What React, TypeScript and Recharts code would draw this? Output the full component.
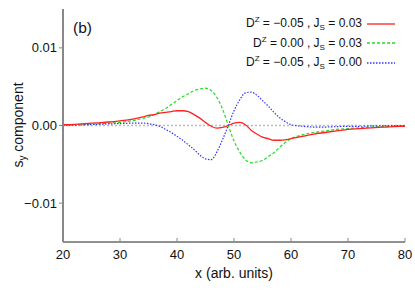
import { CartesianGrid, Line, LineChart, ReferenceLine, XAxis, YAxis } from 'recharts';

const xs = [
	20, 22, 24, 26, 28, 30, 32, 34, 35, 36, 37, 38, 39, 40, 41, 42, 43, 44, 45, 46, 47, 48, 49, 50,
	51, 52, 53, 54, 55, 56, 57, 58, 59, 60, 62, 64, 66, 68, 70, 72, 74, 76, 78, 80,
];

// Dz = -0.05, Js = 0.03
const redSeries = [
	0.0001, 0.00015, 0.00025, 0.00035, 0.00045, 0.0006, 0.0008, 0.0011, 0.0013, 0.0014, 0.0016,
	0.0017, 0.0018, 0.0019, 0.0019, 0.0018, 0.0014, 0.00095, 0.0004, -0.0001, -0.00035, -0.00025,
	0.0, 0.0003, 0.0004, 0.0001, -0.0006, -0.0011, -0.0015, -0.0017, -0.0019, -0.0019, -0.00185,
	-0.0017, -0.0014, -0.0011, -0.0009, -0.0007, -0.0005, -0.0004, -0.0003, -0.0002, -0.00015,
	-0.0001,
];

// Dz = 0.00, Js = 0.03
const greenSeries = [
	0.00005, 0.0001, 0.00015, 0.0002, 0.0003, 0.0004, 0.0006, 0.0009, 0.0011, 0.0014, 0.0018,
	0.0022, 0.0027, 0.0032, 0.0037, 0.0041, 0.0045, 0.0047, 0.0048, 0.0045, 0.0036, 0.0021, 0.0,
	-0.002, -0.0034, -0.0044, -0.0048, -0.0047, -0.0045, -0.004, -0.0035, -0.0028, -0.0022,
	-0.0017, -0.0012, -0.0009, -0.0007, -0.0005, -0.0004, -0.0003, -0.0002, -0.00015, -0.0001,
	-0.00005,
];

// Dz = -0.05, Js = 0.00
const blueSeries = [
	0.00002, 0.00005, 0.0001, 0.00015, 0.0002, 0.00025, 0.0003, 0.0003, 0.00025, 0.0001, -0.0001,
	-0.0005, -0.0009, -0.0014, -0.0019, -0.0025, -0.0031, -0.0038, -0.0043, -0.0044, -0.0034,
	-0.0018, 0.0, 0.0019, 0.0033, 0.0042, 0.0043, 0.0039, 0.0032, 0.0025, 0.0017, 0.001, 0.0005,
	0.0001, -0.0001, -0.0002, -0.0002, -0.00015, -0.0001, -0.0001, -0.00005, -0.00003, 0, 0,
];

const xTicks = [20, 30, 40, 50, 60, 70, 80];
const yTicks = [-0.01, 0, 0.01];

const data = xs.map((x, i) => ({
	x,
	red: redSeries[i],
	green: greenSeries[i],
	blue: blueSeries[i],
}));

const font = '"Liberation Sans", Arial, sans-serif';

const fmtY = (v: number) => (v < 0 ? '\u2212' : '') + Math.abs(v).toFixed(2);

const legendRows = [
	{ dz: '\u22120.05', js: '0.03', color: '#ff2020', dash: undefined },
	{ dz: '0.00', js: '0.03', color: '#22dd22', dash: '3 2' },
	{ dz: '\u22120.05', js: '0.00', color: '#3333ff', dash: '1.5 1.5' },
];

export default function App() {
	return (
		<div style={{ position: 'absolute', left: 0, top: 0, width: 415, height: 291, fontFamily: font }}>
			<LineChart
				width={415}
				height={291}
				data={data}
				margin={{ top: 9, right: 10, left: 0, bottom: 0 }}
			>
				<CartesianGrid stroke='none' />
				<XAxis
					xAxisId='top'
					orientation='top'
					dataKey='x'
					type='number'
					domain={[20, 80]}
					height={0}
					tick={false}
					tickLine={false}
					axisLine={{ stroke: '#222', strokeWidth: 1 }}
				/>
				<YAxis
					yAxisId='right'
					orientation='right'
					domain={[-0.015, 0.015]}
					width={0}
					tick={false}
					tickLine={false}
					axisLine={{ stroke: '#222', strokeWidth: 1 }}
				/>
				<XAxis
					dataKey='x'
					type='number'
					domain={[20, 80]}
					ticks={xTicks}
					height={49}
					tickSize={-4}
					tickLine={{ stroke: '#888' }}
					axisLine={{ stroke: '#222', strokeWidth: 1 }}
					tick={{ fill: '#111', fontSize: 13, fontFamily: font, dy: 10 }}
					label={{
						value: 'x (arb. units)',
						position: 'insideBottom',
						offset: 13,
						fill: '#111',
						fontSize: 14,
						fontFamily: font,
					}}
				/>
				<YAxis
					domain={[-0.015, 0.015]}
					ticks={yTicks}
					width={63}
					tickSize={4}
					tickFormatter={fmtY}
					tickLine={{ stroke: '#888' }}
					axisLine={{ stroke: '#888', strokeWidth: 2 }}
					tick={{ fill: '#111', fontSize: 13, fontFamily: font }}
				/>
				<ReferenceLine y={0} stroke='#bbbbbb' strokeWidth={1.5} strokeDasharray='2 2' />
				<Line
					dataKey='green'
					type='monotone'
					stroke='#22dd22'
					strokeWidth={1.2}
					strokeDasharray='3 2'
					dot={false}
					isAnimationActive={false}
				/>
				<Line
					dataKey='blue'
					type='monotone'
					stroke='#3333ff'
					strokeWidth={1.2}
					strokeDasharray='1.5 1.5'
					dot={false}
					isAnimationActive={false}
				/>
				<Line
					dataKey='red'
					type='monotone'
					stroke='#ff2020'
					strokeWidth={1.3}
					dot={false}
					isAnimationActive={false}
				/>
			</LineChart>
			<div
				style={{
					position: 'absolute',
					left: 2,
					top: 125,
					transform: 'translate(0, -50%) rotate(-90deg)',
					transformOrigin: 'center',
					fontSize: 14,
					color: '#111',
					whiteSpace: 'nowrap',
					width: 34,
					display: 'flex',
					justifyContent: 'center',
				}}
			>
				<span>
					s<sub style={{ fontSize: 10 }}>y</sub> component
				</span>
			</div>
			<div style={{ position: 'absolute', left: 73, top: 19, fontSize: 15.5, color: '#111' }}>(b)</div>
			<div style={{ position: 'absolute', right: 20, top: 14, fontSize: 12, color: '#111' }}>
				{legendRows.map((r, i) => (
					<div
						key={i}
						style={{ display: 'flex', justifyContent: 'flex-end', alignItems: 'center', height: 19.5 }}
					>
						<span style={{ whiteSpace: 'nowrap' }}>
							D<sup style={{ fontSize: 8 }}>Z</sup> = {r.dz} , J<sub style={{ fontSize: 8 }}>S</sub> = {r.js}
						</span>
						<svg width={28} height={6} style={{ marginLeft: 5 }}>
							<line x1={0} y1={3} x2={28} y2={3} stroke={r.color} strokeWidth={1.3} strokeDasharray={r.dash} />
						</svg>
					</div>
				))}
			</div>
		</div>
	);
}
